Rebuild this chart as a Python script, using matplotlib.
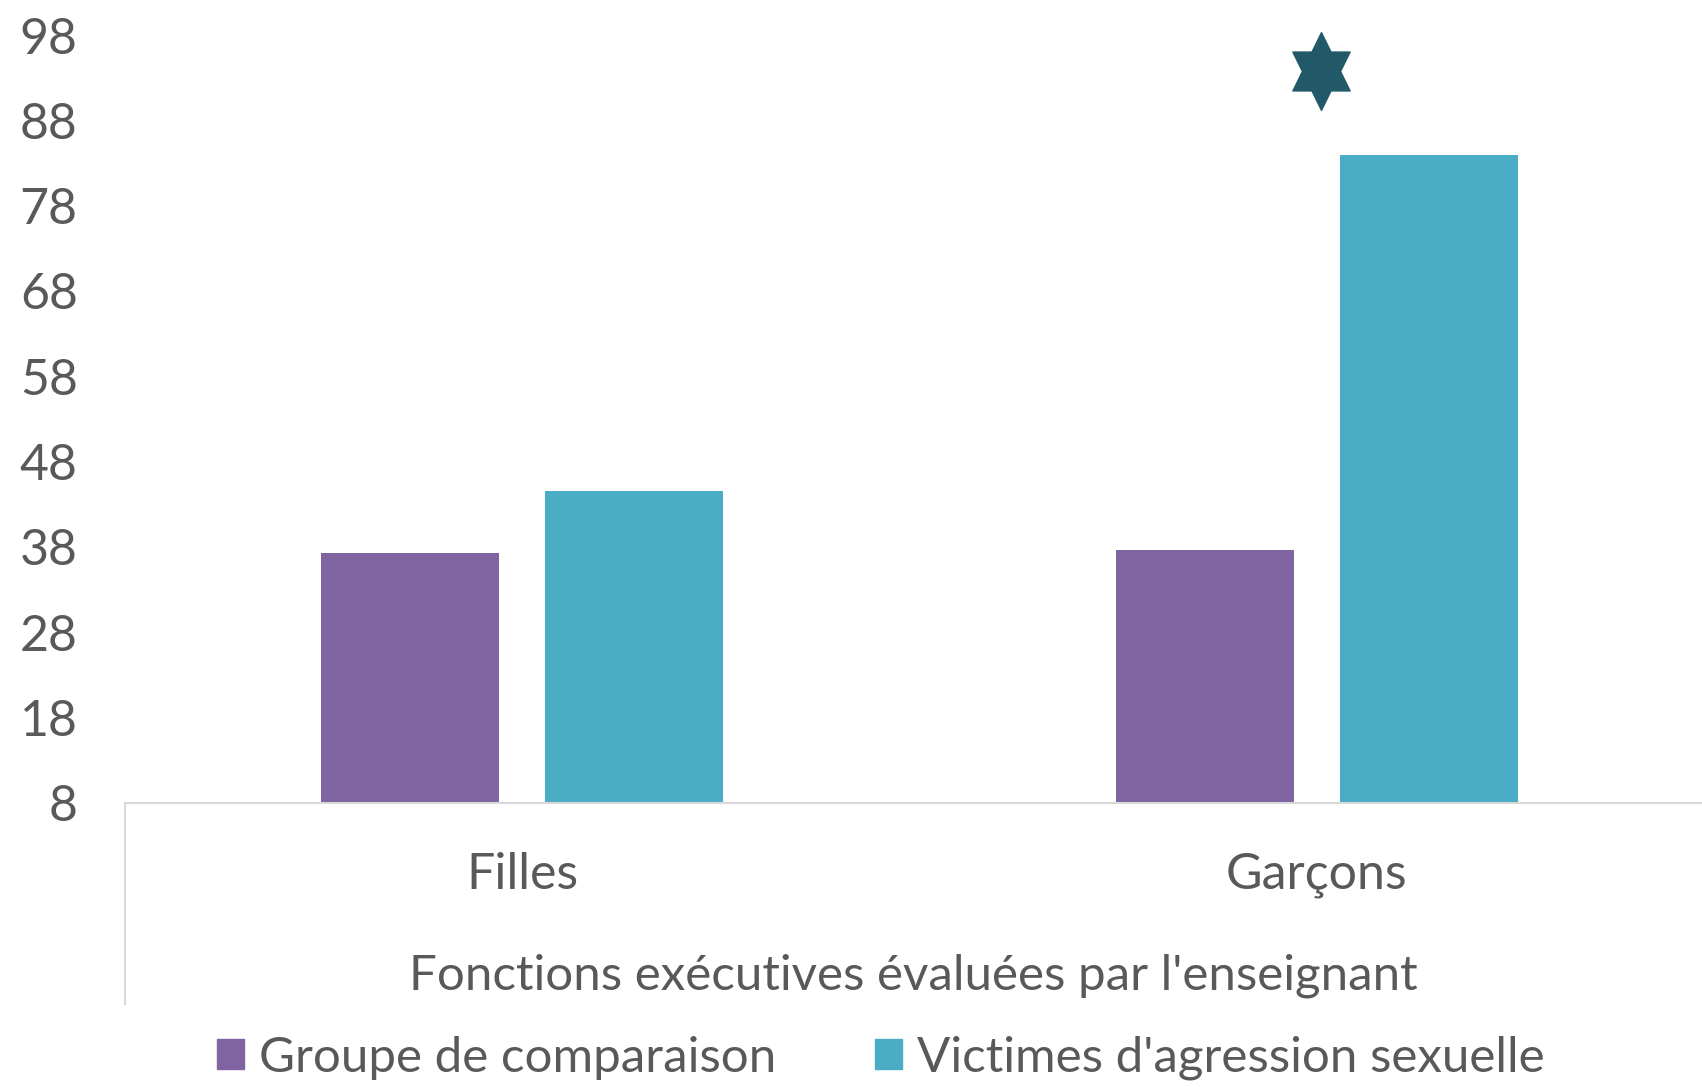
import numpy as np
from matplotlib import pyplot as plt
from matplotlib.path import Path
from matplotlib.patches import Patch
from matplotlib.lines import Line2D

categories = ["Filles", "Garçons"]
comparaison = [37.3, 37.7]
victimes = [44.6, 83.9]
star_cat = 1.005
star_val = 93.8
yticks = [8, 18, 28, 38, 48, 58, 68, 78, 88, 98]

purple = "#8064A2"
cyan = "#4BACC6"
txt = "#595959"
grid = "#D9D9D9"

plt.rcParams['font.family'] = ['Lato', 'DejaVu Sans']

fig = plt.figure(figsize=(17.02, 10.87), dpi=100)
ax = fig.add_axes([0.0734, 0.2613, 0.9266, 0.9678 - 0.2613])

x = np.arange(len(categories))
w = 0.224
off = 0.141
ax.bar(x - off, [v - 8 for v in comparaison], width=w, bottom=8, color=purple, label="Groupe de comparaison")
ax.bar(x + off, [v - 8 for v in victimes], width=w, bottom=8, color=cyan, label="Victimes d'agression sexuelle")

# hexagram, a little taller than wide
star = Path.unit_regular_star(6, innerCircle=0.577)
verts = star.vertices.copy()
verts[:, 0] *= 0.85
star = Path(verts, star.codes)
ax.plot([star_cat], [star_val], marker=star, markersize=56, color="#215968", linestyle='none', clip_on=False)

ax.set_xlim(-0.5, 1.485)
ax.set_ylim(8, 98)
ax.set_yticks(yticks)
ax.set_xticks(x)
ax.set_xticklabels(categories)
ax.tick_params(axis='y', length=0, pad=34, labelsize=36, labelcolor=txt)
ax.tick_params(axis='x', length=0, pad=35, labelsize=36, labelcolor=txt)
ax.set_xlabel("Fonctions exécutives évaluées par l'enseignant", fontsize=35.5, color=txt, labelpad=40)

for s in ["top", "right", "left"]:
    ax.spines[s].set_visible(False)
ax.spines["bottom"].set_color(grid)
ax.spines["bottom"].set_linewidth(1.5)
ax.add_line(Line2D([0, 0], [0, -0.262], transform=ax.transAxes, color=grid, linewidth=1.5, clip_on=False))

handles = [Patch(color=purple), Patch(color=cyan)]
fig.legend(handles, ["Groupe de comparaison", "Victimes d'agression sexuelle"], loc='center',
           bbox_to_anchor=(0.5176, 0.0267), ncol=2, frameon=False, fontsize=35.5,
           handlelength=0.55, handleheight=0.55, handletextpad=0.3, columnspacing=2.0,
           labelcolor=txt)

plt.savefig("out.png", dpi=100)
